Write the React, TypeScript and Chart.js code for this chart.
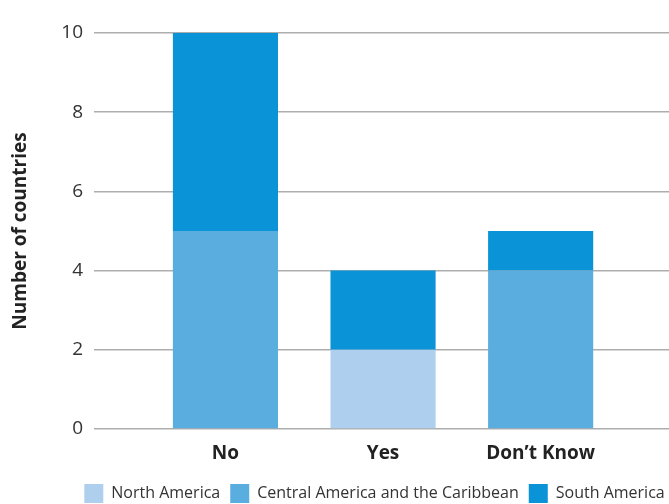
import React, { useEffect, useRef } from 'react';
import { Chart, registerables } from 'chart.js';
Chart.register(...registerables);

const categories = ['No', 'Yes', 'Don\u2019t Know'];
const northAmerica = [0, 2, 0];
const centralAmerica = [5, 0, 4];
const southAmerica = [5, 2, 1];
const yTicks = [0, 2, 4, 6, 8, 10];

export default function App() {
  const ref = useRef<HTMLCanvasElement>(null);
  useEffect(() => {
    document.body.style.margin = '0';
    const family = "'Open Sans', sans-serif";
    const mk = (vals: number[]) => vals.map((y, i) => ({ x: i, y }));
    const chart = new Chart(ref.current as HTMLCanvasElement, {
      type: 'bar',
      data: {
        datasets: [
          { label: 'North America', data: mk(northAmerica), backgroundColor: '#aed0ee', barPercentage: 0.667, categoryPercentage: 1 },
          { label: 'Central America and the Caribbean', data: mk(centralAmerica), backgroundColor: '#5aaddf', barPercentage: 0.667, categoryPercentage: 1 },
          { label: 'South America', data: mk(southAmerica), backgroundColor: '#0a93d6', barPercentage: 0.667, categoryPercentage: 1 },
        ] as any,
      },
      options: {
        responsive: false,
        animation: false,
        layout: { padding: { top: 33, left: 0, right: 0, bottom: 0 } },
        plugins: {
          legend: {
            position: 'bottom',
            labels: { boxWidth: 19, boxHeight: 19, padding: 10, color: '#333', font: { family, size: 16 } },
          },
          tooltip: { enabled: false },
        },
        scales: {
          x: {
            type: 'linear',
            offset: false,
            min: -0.834,
            max: 3.322,
            stacked: true,
            grid: { display: false },
            border: { display: false },
            afterBuildTicks: (s: any) => { s.ticks = categories.map((_, i) => ({ value: i })); },
            ticks: {
              callback: (v: any) => categories[v as number],
              color: '#222',
              font: { family, size: 19, weight: 'bold' },
              padding: 5,
              maxRotation: 0,
              autoSkip: false,
            },
            afterFit: (s: any) => { s.height = 45; },
          },
          y: {
            stacked: true,
            min: 0,
            max: 10,
            z: 1,
            afterBuildTicks: (s: any) => { s.ticks = yTicks.map((v) => ({ value: v })); },
            grid: { color: '#adadad', lineWidth: 1.5, drawTicks: false },
            border: { display: false },
            ticks: { padding: 11, color: '#333', font: { family, size: 19 } },
            title: {
              display: true,
              text: 'Number of countries',
              color: '#222',
              font: { family, size: 19, weight: 'bold' },
              padding: { top: 9, bottom: 0 },
            },
            afterFit: (s: any) => { s.width = 94; },
          },
        },
      } as any,
    });
    return () => chart.destroy();
  }, []);
  return (
    <div style={{ width: 669, height: 504, overflow: 'hidden' }}>
      <canvas ref={ref} width={749} height={513} style={{ display: 'block' }} />
    </div>
  );
}
